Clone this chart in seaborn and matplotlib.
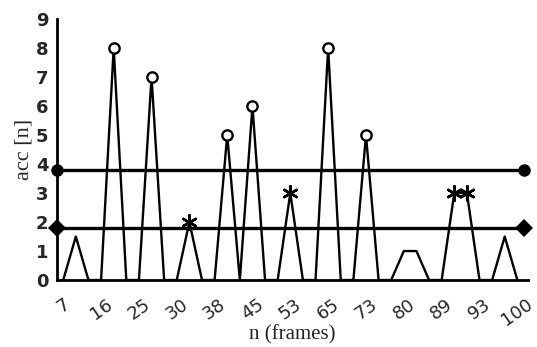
import numpy as np
import pandas as pd
import matplotlib
matplotlib.use("Agg")
import matplotlib.pyplot as plt
import seaborn as sns

# accumulated value per frame step (37 steps, every third one labelled)
acc = [0, 1.5, 0, 0, 8, 0, 0, 7, 0, 0, 2, 0, 0, 5, 0, 6, 0, 0, 3, 0,
       0, 8, 0, 0, 5, 0, 0, 1, 1, 0, 0, 3, 3, 0, 0, 1.5, 0]
frame_labels = ["7", "16", "25", "30", "38", "45", "53", "65", "73",
                "80", "89", "93", "100"]
circle_idx = [4, 7, 13, 15, 21, 24]
star_idx = [10, 18, 31, 32]
upper_level = 3.8
lower_level = 1.8

df = pd.DataFrame({"step": np.arange(len(acc)), "acc": acc})
circles = df.iloc[circle_idx]
stars = df.iloc[star_idx]

sns.set_style("white")
fig = plt.figure(figsize=(5.37, 3.47), dpi=100)
ax = fig.add_axes([0.106, 0.193, 0.877, 0.752])

sns.lineplot(data=df, x="step", y="acc", color="black", linewidth=1.7, ax=ax)

ends = [-0.5, len(acc) - 0.5]
sns.lineplot(x=ends, y=[upper_level] * 2, color="black", linewidth=2.4,
             marker="o", markersize=9, markeredgewidth=0, clip_on=False, ax=ax)
sns.lineplot(x=ends, y=[lower_level] * 2, color="black", linewidth=2.4,
             marker="D", markersize=9, markeredgewidth=0, clip_on=False, ax=ax)

sns.scatterplot(data=circles, x="step", y="acc", marker="o", s=55,
                facecolor="white", edgecolor="black", linewidth=1.7,
                zorder=5, ax=ax)
ax.scatter(stars["step"], stars["acc"], marker=(6, 2, 0), s=110,
           color="black", linewidths=1.8, zorder=5)

ax.set_xlim(ends)
ax.set_ylim(0, 9)
ax.set_yticks(range(10))
ax.set_yticklabels([str(v) for v in range(10)], fontsize=13, fontweight="bold")
ax.set_xticks(np.arange(0, len(acc), 3))
ax.set_xticklabels(frame_labels, rotation=35, ha="center", fontsize=13)
ax.set_xticks(np.arange(-0.5, len(acc), 2 / 3), minor=True)

ax.tick_params(axis="both", which="both", direction="out", length=4,
               width=1.5, color="black", pad=2)
ax.tick_params(axis="x", which="major", pad=7)
for side in ["top", "right"]:
    ax.spines[side].set_visible(False)
for side in ["left", "bottom"]:
    ax.spines[side].set_color("black")
    ax.spines[side].set_linewidth(2)

ax.set_xlabel("n (frames)", fontsize=15, family="Liberation Serif", labelpad=-3)
ax.set_ylabel("acc [n]", fontsize=16, family="Liberation Serif", labelpad=2)

fig.savefig("out.png", dpi=100)
